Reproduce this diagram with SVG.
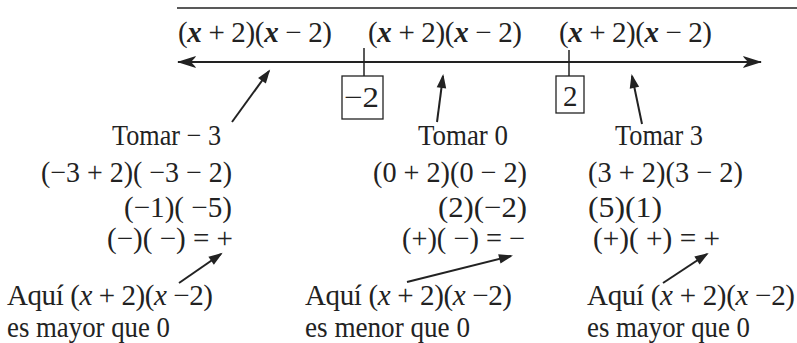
<svg xmlns="http://www.w3.org/2000/svg" width="797" height="343" viewBox="0 0 797 343">
<style>
text{font-family:"Liberation Serif","DejaVu Serif",serif;font-size:29px;fill:#222}
.xb{font-style:italic;font-weight:bold}
.xi{font-style:italic}
.ln{stroke:#222;fill:none}
.box{stroke:#222;stroke-width:1.3;fill:#fff}
</style>
<defs>
<marker id="ah" viewBox="-13 -6 16 12" refX="0" refY="0" markerWidth="16" markerHeight="12" markerUnits="userSpaceOnUse" orient="auto">
<path d="M2,0 L-12,-4.8 L-12,4.8 Z" fill="#222"/>
</marker>
<marker id="nh" viewBox="-20 -7 22 14" refX="0" refY="0" markerWidth="22" markerHeight="14" markerUnits="userSpaceOnUse" orient="auto-start-reverse">
<path d="M1,0 L-18,-6 L-17,-4.2 L-13,0 L-17,4.2 L-18,6 Z" fill="#222"/>
</marker>
</defs>

<g id="axis">
<line class="ln" x1="177" y1="8" x2="797" y2="8" stroke-width="1.5"/>
<line class="ln" x1="178" y1="62" x2="761" y2="62" stroke-width="2.2" marker-start="url(#nh)" marker-end="url(#nh)"/>
</g>

<g id="top-expr-1"><text x="178" y="42" textLength="154">(<tspan class="xb">x</tspan> + 2)(<tspan class="xb">x</tspan> − 2)</text></g>
<g id="top-expr-2"><text x="368" y="42" textLength="154">(<tspan class="xb">x</tspan> + 2)(<tspan class="xb">x</tspan> − 2)</text></g>
<g id="top-expr-3"><text x="559" y="42" textLength="153">(<tspan class="xb">x</tspan> + 2)(<tspan class="xb">x</tspan> − 2)</text></g>

<g id="mark-neg2">
<line class="ln" x1="364" y1="48" x2="364" y2="76" stroke-width="1.5"/>
<rect class="box" x="342" y="76" width="41" height="43"/>
<text x="344" y="107" textLength="35" lengthAdjust="spacingAndGlyphs">−2</text>
</g>
<g id="mark-2">
<line class="ln" x1="569" y1="50" x2="569" y2="76" stroke-width="1.5"/>
<rect class="box" x="556" y="76" width="28" height="37"/>
<text x="563" y="106">2</text>
</g>

<g id="col-left">
<text x="112" y="145" textLength="109" lengthAdjust="spacingAndGlyphs">Tomar − 3</text>
<text x="41" y="182" textLength="191" lengthAdjust="spacingAndGlyphs">(−3 + 2)( −3 − 2)</text>
<text x="124" y="217" textLength="108" lengthAdjust="spacingAndGlyphs">(−1)( −5)</text>
<text x="107" y="248" textLength="126" lengthAdjust="spacingAndGlyphs">(−)( −) = +</text>
<text x="7" y="305" textLength="206">Aquí (<tspan class="xi">x</tspan> + 2)(<tspan class="xi">x</tspan> −2)</text>
<text x="7" y="337" textLength="163" lengthAdjust="spacingAndGlyphs">es mayor que 0</text>
</g>

<g id="col-mid">
<text x="418" y="145" textLength="90" lengthAdjust="spacingAndGlyphs">Tomar 0</text>
<text x="373" y="182" textLength="154" lengthAdjust="spacingAndGlyphs">(0 + 2)(0 − 2)</text>
<text x="438" y="217" textLength="89" lengthAdjust="spacingAndGlyphs">(2)(−2)</text>
<text x="402" y="248" textLength="123" lengthAdjust="spacingAndGlyphs">(+)( −) = −</text>
<text x="305" y="305" textLength="207">Aquí (<tspan class="xi">x</tspan> + 2)(<tspan class="xi">x</tspan> −2)</text>
<text x="305" y="337" textLength="165" lengthAdjust="spacingAndGlyphs">es menor que 0</text>
</g>

<g id="col-right">
<text x="615" y="145" textLength="88" lengthAdjust="spacingAndGlyphs">Tomar 3</text>
<text x="588" y="182" textLength="155" lengthAdjust="spacingAndGlyphs">(3 + 2)(3 − 2)</text>
<text x="588" y="217" textLength="74" lengthAdjust="spacingAndGlyphs">(5)(1)</text>
<text x="593" y="248" textLength="127" lengthAdjust="spacingAndGlyphs">(+)( +) = +</text>
<text x="587" y="305" textLength="208">Aquí (<tspan class="xi">x</tspan> + 2)(<tspan class="xi">x</tspan> −2)</text>
<text x="587" y="337" textLength="163" lengthAdjust="spacingAndGlyphs">es mayor que 0</text>
</g>

<g id="connectors" class="ln" stroke-width="2">
<line x1="232" y1="122" x2="269" y2="71" marker-end="url(#ah)"/>
<line x1="437" y1="122" x2="443" y2="76" marker-end="url(#ah)"/>
<line x1="642" y1="124" x2="632" y2="76" marker-end="url(#ah)"/>
<line x1="179" y1="283" x2="221" y2="254" marker-end="url(#ah)"/>
<line x1="407" y1="282" x2="511" y2="256" marker-end="url(#ah)"/>
<line x1="663" y1="283" x2="707" y2="254" marker-end="url(#ah)"/>
</g>
</svg>
